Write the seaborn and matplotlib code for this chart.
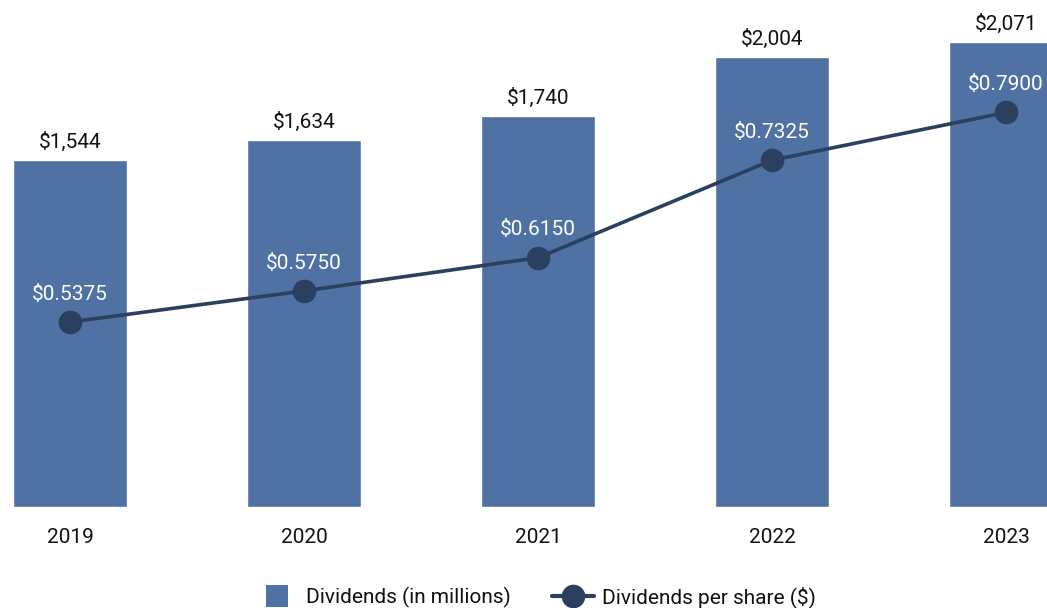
import matplotlib
matplotlib.use("Agg")
import matplotlib.pyplot as plt
import seaborn as sns
import pandas as pd
from matplotlib.lines import Line2D

years = ["2019", "2020", "2021", "2022", "2023"]
dividends_millions = [1544, 1634, 1740, 2004, 2071]
dividends_per_share = [0.5375, 0.5750, 0.6150, 0.7325, 0.7900]
bar_labels = ["$1,544", "$1,634", "$1,740", "$2,004", "$2,071"]
dps_labels = ["$0.5375", "$0.5750", "$0.6150", "$0.7325", "$0.7900"]

sns.set_style("white")
plt.rcParams['font.family'] = ['Roboto', 'DejaVu Sans']

BAR = "#4f71a3"
LINE = "#2b3f5e"
FS = 15

df = pd.DataFrame({"year": years, "div": dividends_millions, "dps": dividends_per_share,
                   "x": list(range(len(years)))})

fig = plt.figure(figsize=(10.47, 6.08), dpi=100)
ax = fig.add_axes([0.0, 1 - 507/608, 1.0, (507 - 20)/608])
sns.barplot(data=df, x="year", y="div", color=BAR, width=0.487, saturation=1, ax=ax)
ax.set_xlim(-70/234, (1047 - 70)/234)
ax.set_ylim(0, 2168)
for i, (v, lab) in enumerate(zip(dividends_millions, bar_labels)):
    ax.annotate(lab, (i, v), xytext=(0, 6), textcoords="offset points",
                ha="center", va="bottom", fontsize=FS, color="#111111")
ax.set_yticks([])
ax.set_xlabel("")
ax.set_ylabel("")
ax.tick_params(axis="x", length=0, pad=15, labelsize=FS, labelcolor="#111111")
for s in ax.spines.values():
    s.set_visible(False)

ax2 = ax.twinx()
sns.lineplot(data=df, x="x", y="dps", color=LINE, linewidth=2.6, marker="o",
             markersize=17, markeredgewidth=0, ax=ax2)
ax2.set_ylim(0.3146, 0.9014)
ax2.set_xlim(ax.get_xlim())
for i, (v, lab) in enumerate(zip(dividends_per_share, dps_labels)):
    ax2.annotate(lab, (i, v), xytext=(0, 20), textcoords="offset points",
                 ha="center", va="center", fontsize=FS, color="white")
ax2.set_yticks([])
ax2.set_ylabel("")
ax2.set_xlabel("")
for s in ax2.spines.values():
    s.set_visible(False)

handles = [Line2D([0], [0], color=BAR, linestyle="none", marker="s", markersize=16,
                  markeredgewidth=0),
           Line2D([0], [0], color=LINE, linewidth=3, marker="o", markersize=17,
                  markeredgewidth=0)]
fig.legend(handles, ["Dividends (in millions)", "Dividends per share ($)"],
           loc="center", bbox_to_anchor=(0.512, 1 - 597/608), ncol=2, frameon=False,
           fontsize=FS, handlelength=2.0, columnspacing=2.0,
           handletextpad=0.4, labelcolor="#111111")

fig.savefig("out.png", dpi=100)
